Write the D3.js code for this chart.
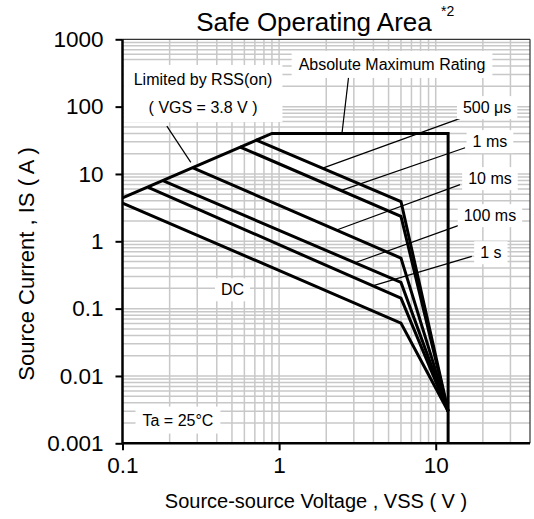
<!DOCTYPE html>
<html><head><meta charset="utf-8">
<script src="https://cdn.jsdelivr.net/npm/d3@7/dist/d3.min.js"></script>
<style>
body{margin:0;background:#fff}
svg{display:block}
text{font-family:"Liberation Sans",Arial,Helvetica,sans-serif;fill:#000}
</style>
</head><body>
<svg id="chart" width="534" height="519"></svg>
<script>
// ---------- data ----------
const xTickValues = [0.1, 1, 10];
const xTickLabels = ["0.1", "1", "10"];
const yTickValues = [0.001, 0.01, 0.1, 1, 10, 100, 1000];
const yTickLabels = ["0.001", "0.01", "0.1", "1", "10", "100", "1000"];

const seriesNames = ["500 μs", "1 ms", "10 ms", "100 ms", "1 s", "DC"];
// each series: vertices [V, I]
const seriesVoltage = [
  [0.71, 6, 12],
  [0.56, 6, 12],
  [0.282, 6, 12],
  [0.181, 6, 12],
  [0.146, 6, 12],
  [0.1, 6, 12]
];
const seriesCurrent = [
  [32, 3.9, 0.003],
  [25.3, 2.35, 0.003],
  [12.3, 0.564, 0.003],
  [7.98, 0.245, 0.003],
  [6.34, 0.143, 0.003],
  [3.7, 0.061, 0.003]
];
// RSS(on) limit and absolute maximum rating boundary
const limitVoltage = [0.1, 0.9, 12, 12];
const limitCurrent = [4.4, 40, 40, 0.001];

// label anchor points (data coords) and leader lines [V1, I1, V2, I2]
const seriesLabelV = [21.3, 22.2, 22.2, 22.2, 22.5, 0.504];
const seriesLabelI = [97, 30.3, 8.55, 2.41, 0.678, 0.191];
const seriesLeaders = [
  [1.9, 12.2, 15.4, 71],
  [2.5, 5.7, 15.4, 24.5],
  [2.33, 1.47, 14.3, 6.96],
  [3.05, 0.48, 13.9, 1.71],
  [4.0, 0.22, 17.0, 0.597]
];
const noteTexts = ["Absolute Maximum Rating", "Ta = 25°C"];
const noteV = [5.26, 0.226];
const noteI = [425, 0.00222];
const absLeader = [2.52, 40, 2.79, 301];
const rssTexts = ["Limited by RSS(on)", "( VGS = 3.8 V )"];
const rssTextV = [0.327, 0.327];
const rssTextI = [254, 97];
const rssLeader = [0.192, 51.3, 0.273, 14.9];

// ---------- layout ----------
const svg = d3.select("#chart");
const L = 122.5, R = 530, T = 39.3, B = 443.3;
const x = d3.scaleLog().domain([0.1, 40]).range([L, R]);
const y = d3.scaleLog().domain([0.001, 1000]).range([B, T]);

// grid
const grid = svg.append("g");
const xGrid = [];
[0.1, 1, 10].forEach(d => { for (let k = 1; k <= 9; k++) { const v = d * k; if (v > 0.1 && v < 40) xGrid.push(v); } });
const yGrid = [];
[0.001, 0.01, 0.1, 1, 10, 100].forEach(d => { for (let k = 1; k <= 9; k++) { const v = d * k; if (v > 0.001) yGrid.push(v); } });
grid.selectAll(".gx").data(xGrid).join("line")
  .attr("x1", d => x(d)).attr("x2", d => x(d)).attr("y1", T).attr("y2", B)
  .attr("stroke", "#c8c8c8").attr("stroke-width", 1.5);
grid.selectAll(".gy").data(yGrid).join("line")
  .attr("x1", L).attr("x2", R).attr("y1", d => y(d)).attr("y2", d => y(d))
  .attr("stroke", "#c8c8c8").attr("stroke-width", 1.5);

// leader lines
const leaders = svg.append("g").attr("stroke", "#000").attr("stroke-width", 1.2);
seriesLeaders.concat([absLeader, rssLeader]).forEach(l => {
  leaders.append("line").attr("x1", x(l[0])).attr("y1", y(l[1])).attr("x2", x(l[2])).attr("y2", y(l[3]));
});

// labels with white boxes
const labelLayer = svg.append("g");
function boxedText(lines, vx, iy, size, padX, padY) {
  const g = labelLayer.append("g");
  const rect = g.append("rect").attr("fill", "#fff");
  const texts = lines.map((t, k) => g.append("text")
    .attr("x", x(vx[k])).attr("y", y(iy[k])).attr("dy", "0.35em")
    .attr("text-anchor", "middle").attr("font-size", size).text(t));
  let x0 = 1e9, y0 = 1e9, x1 = -1e9, y1 = -1e9;
  texts.forEach(t => { const b = t.node().getBBox(); x0 = Math.min(x0, b.x); y0 = Math.min(y0, b.y); x1 = Math.max(x1, b.x + b.width); y1 = Math.max(y1, b.y + b.height); });
  rect.attr("x", x0 - padX).attr("y", y0 - padY).attr("width", x1 - x0 + 2 * padX).attr("height", y1 - y0 + 2 * padY);
}
seriesNames.forEach((n, k) => boxedText([n], [seriesLabelV[k]], [seriesLabelI[k]], 16, 6, 3));
noteTexts.forEach((n, k) => boxedText([n], [noteV[k]], [noteI[k]], 16, 7, 5));
boxedText(rssTexts, rssTextV, rssTextI, 16, 10, 6);

// curves
const line = d3.line().x(d => x(d[0])).y(d => y(d[1]));
const curves = svg.append("g").attr("fill", "none").attr("stroke", "#000").attr("stroke-width", 3).attr("stroke-linejoin", "miter");
curves.append("path").attr("d", line(limitVoltage.map((v, k) => [v, limitCurrent[k]])));
seriesVoltage.forEach((vs, s) => {
  curves.append("path").attr("d", line(vs.map((v, k) => [v, seriesCurrent[s][k]])));
});

// frame
svg.append("line").attr("x1", L).attr("x2", R).attr("y1", T).attr("y2", T).attr("stroke", "#333").attr("stroke-width", 1.2);
svg.append("line").attr("x1", R).attr("x2", R).attr("y1", T).attr("y2", B).attr("stroke", "#333").attr("stroke-width", 1.2);

// axes
const xAxis = d3.axisBottom(x).tickValues(xTickValues).tickFormat((d, i) => xTickLabels[i]).tickSize(7).tickPadding(7);
const yAxis = d3.axisLeft(y).tickValues(yTickValues).tickFormat((d, i) => yTickLabels[i]).tickSize(7).tickPadding(12);
const gx = svg.append("g").attr("transform", `translate(0,${B})`).call(xAxis);
const gy = svg.append("g").attr("transform", `translate(${L},0)`).call(yAxis);
[gx, gy].forEach(g => {
  g.select(".domain").attr("stroke", "#000").attr("stroke-width", 2.5);
  g.selectAll(".tick line").attr("stroke", "#000").attr("stroke-width", 2);
  g.selectAll(".tick text").attr("font-size", 22.5).attr("font-family", "Liberation Sans, Arial, sans-serif").attr("fill", "#000");
});
gx.select(".domain").attr("d", `M${L},0H${R}`);
gy.select(".domain").attr("d", `M0,${B}V${T}`);

// titles
svg.append("text").attr("x", 314).attr("y", 31).attr("text-anchor", "middle").attr("font-size", 26).text("Safe Operating Area");
svg.append("text").attr("x", 441).attr("y", 16).attr("font-size", 14).text("*2");
svg.append("text").attr("x", 316).attr("y", 508).attr("text-anchor", "middle").attr("font-size", 20).text("Source-source Voltage , VSS ( V )");
svg.append("text").attr("transform", "translate(34,264) rotate(-90)").attr("text-anchor", "middle").attr("font-size", 22).text("Source Current , IS ( A )");
</script>
</body></html>
